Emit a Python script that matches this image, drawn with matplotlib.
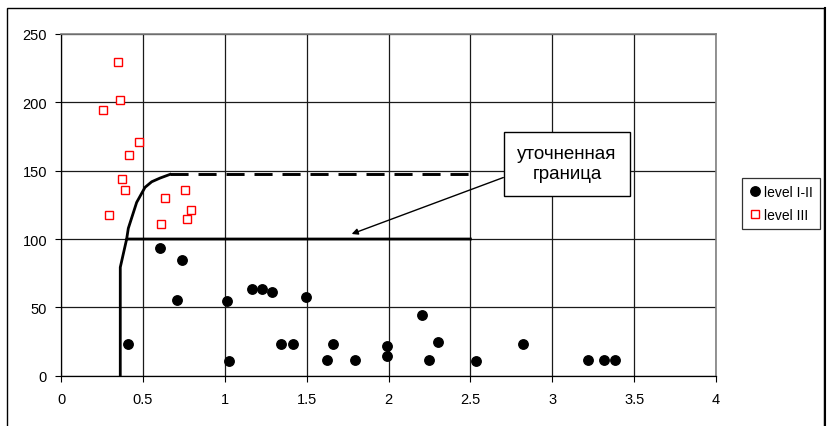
import matplotlib
matplotlib.use("Agg")
import matplotlib.pyplot as plt
from matplotlib.patches import Rectangle

plt.rcParams['font.family'] = ['Liberation Sans', 'DejaVu Sans']

# level I-II observations
lvl12_x = [0.407, 0.603, 0.710, 0.741, 1.016, 1.026, 1.168, 1.229, 1.290,
           1.344, 1.419, 1.496, 1.624, 1.663, 1.794, 1.993, 1.993, 2.205,
           2.246, 2.304, 2.534, 2.823, 3.218, 3.318, 3.385]
lvl12_y = [23.4, 93.6, 55.6, 84.4, 54.6, 10.8, 63.4, 63.4, 61.0,
           23.4, 23.4, 57.4, 11.7, 23.4, 11.7, 21.7, 14.4, 44.4,
           11.7, 24.4, 10.8, 23.4, 11.7, 11.7, 11.7]

# level III observations
lvl3_x = [0.346, 0.360, 0.255, 0.474, 0.413, 0.374, 0.393, 0.757, 0.635,
          0.291, 0.796, 0.771, 0.613]
lvl3_y = [229.7, 201.5, 194.1, 171.2, 161.2, 143.9, 135.6, 135.6, 130.0,
          117.5, 121.0, 114.6, 111.2]

# refined boundary: lower (solid) branch
bound_x = [0.362, 0.362, 0.401, 0.43, 2.5]
bound_y = [0.0, 79.3, 100.0, 100.0, 100.0]
# upper curved part leading into the dashed level
curve_x = [0.401, 0.411, 0.462, 0.513, 0.554, 0.605, 0.666]
curve_y = [100.0, 107.8, 126.8, 137.8, 141.9, 144.6, 147.3]
dash_x = [0.666, 2.5]
dash_y = [147.3, 147.3]

x_ticks = [0, 0.5, 1, 1.5, 2, 2.5, 3, 3.5, 4]
x_labels = ['0', '0.5', '1', '1.5', '2', '2.5', '3', '3.5', '4']
y_ticks = [0, 50, 100, 150, 200, 250]

note_text = "уточненная\nграница"

fig = plt.figure(figsize=(8.3, 4.27), dpi=100)
ax = fig.add_axes([61/830, 1 - 376.7/427, (716 - 61)/830, (376.7 - 35)/427])

ax.set_xlim(0, 4)
ax.set_ylim(0, 250)
ax.set_xticks(x_ticks)
ax.set_xticklabels(x_labels)
ax.set_yticks(y_ticks)
ax.tick_params(direction='out', length=4, width=0.8, labelsize=10.5,
               colors='black')
ax.tick_params(axis='x', pad=8)
ax.tick_params(axis='y', pad=6)
ax.grid(True, color='#1a1a1a', linewidth=0.9)
ax.set_axisbelow(True)
for side in ('left', 'bottom'):
    ax.spines[side].set_color('black')
    ax.spines[side].set_linewidth(0.9)
for side in ('top', 'right'):
    ax.spines[side].set_color('#808080')
    ax.spines[side].set_linewidth(1.2)

ax.plot(bound_x, bound_y, color='black', linewidth=2.0, zorder=3,
        solid_joinstyle='round')
ax.plot(curve_x, curve_y, color='black', linewidth=2.0, zorder=3)
ax.plot(dash_x, dash_y, color='black', linewidth=2.1, zorder=3,
        dashes=(6.2, 3.4))

ax.plot(lvl12_x, lvl12_y, linestyle='none', marker='o', markersize=6.8,
        color='black', label='level I-II', zorder=4)
ax.plot(lvl3_x, lvl3_y, linestyle='none', marker='s', markersize=6,
        markerfacecolor='white', markeredgecolor='#ff0000',
        markeredgewidth=1.0, label='level III', zorder=4)

ax.annotate(note_text, xy=(1.775, 103.7), xytext=(3.09, 155.0),
            ha='center', va='center', fontsize=13.5, linespacing=1.22,
            bbox=dict(boxstyle='square,pad=0.72', fc='white', ec='black',
                      lw=1.0),
            arrowprops=dict(arrowstyle='-|>', color='black', lw=1.0,
                            mutation_scale=9, shrinkA=0, shrinkB=0,
                            relpos=(0, 0.27)),
            zorder=5)

leg = fig.legend(loc='upper left', bbox_to_anchor=(742/830, 1 - 179/427),
                 fontsize=10, frameon=True, fancybox=False,
                 edgecolor='black', handlelength=0.8, handletextpad=0.3,
                 borderpad=0.5, labelspacing=0.65, borderaxespad=0)
leg.get_frame().set_linewidth(0.9)

# chart frame
fig.patches.append(Rectangle((7/830, -0.05), (824 - 7)/830, 1.05 - 9/427,
                             transform=fig.transFigure, fill=False,
                             edgecolor='black', linewidth=1.0))
fig.lines.append(plt.Line2D([824.5/830, 824.5/830], [0, 1 - 9/427],
                            transform=fig.transFigure, color='black',
                            linewidth=1.5))

fig.savefig('out.png', dpi=100)
